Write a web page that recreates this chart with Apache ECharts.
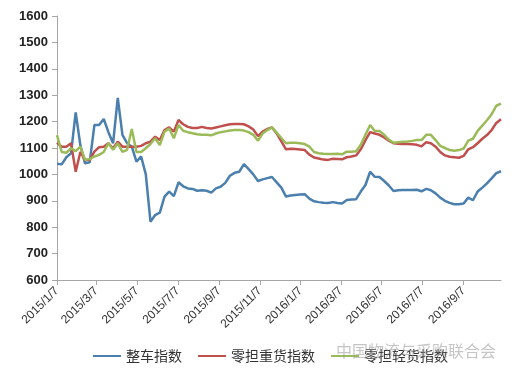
<!DOCTYPE html>
<html>
<head>
<meta charset="utf-8">
<script src="https://cdn.jsdelivr.net/npm/echarts@6/dist/echarts.min.js"></script>
<style>
html,body{margin:0;padding:0;background:#fff;}
#c{width:514px;height:371px;}
</style>
</head>
<body>
<div id="c"></div>
<script>
const dates = [
'2015/1/7','2015/1/14','2015/1/21','2015/1/28','2015/2/4','2015/2/11','2015/2/18','2015/2/25',
'2015/3/4','2015/3/11','2015/3/18','2015/3/25','2015/4/1','2015/4/8','2015/4/15','2015/4/22',
'2015/4/29','2015/5/6','2015/5/13','2015/5/20','2015/5/27','2015/6/3','2015/6/10','2015/6/17',
'2015/6/24','2015/7/1','2015/7/8','2015/7/15','2015/7/22','2015/7/29','2015/8/5','2015/8/12',
'2015/8/19','2015/8/26','2015/9/2','2015/9/9','2015/9/16','2015/9/23','2015/9/30','2015/10/7',
'2015/10/14','2015/10/21','2015/10/28','2015/11/4','2015/11/11','2015/11/18','2015/11/25','2015/12/2',
'2015/12/9','2015/12/16','2015/12/23','2015/12/30','2016/1/6','2016/1/13','2016/1/20','2016/1/27',
'2016/2/3','2016/2/10','2016/2/17','2016/2/24','2016/3/2','2016/3/9','2016/3/16','2016/3/23',
'2016/3/30','2016/4/6','2016/4/13','2016/4/20','2016/4/27','2016/5/4','2016/5/11','2016/5/18',
'2016/5/25','2016/6/1','2016/6/8','2016/6/15','2016/6/22','2016/6/29','2016/7/6','2016/7/13',
'2016/7/20','2016/7/27','2016/8/3','2016/8/10','2016/8/17','2016/8/24','2016/8/31','2016/9/7',
'2016/9/14','2016/9/21','2016/9/28','2016/10/5','2016/10/12','2016/10/19','2016/10/26','2016/11/2'
];
const truckload = [
1040,1038,1065,1080,1235,1110,1042,1046,1187,1187,1210,1160,1118,1290,1150,1118,
1105,1048,1068,1000,821,846,855,916,935,918,970,955,947,945,938,940,
938,931,947,953,968,995,1006,1010,1039,1020,1000,975,981,986,990,970,
950,916,920,922,924,925,908,898,895,893,892,895,892,890,903,905,
906,935,960,1010,991,990,975,958,937,940,941,941,941,942,936,945,
940,928,912,900,892,887,887,890,912,902,935,950,966,985,1005,1012
];
const ltlHeavy = [
1120,1105,1105,1118,1010,1085,1055,1055,1086,1103,1105,1118,1099,1124,1105,1105,
1105,1105,1108,1118,1124,1143,1130,1168,1178,1162,1206,1190,1180,1176,1176,1180,
1176,1174,1178,1182,1186,1190,1191,1191,1190,1182,1170,1145,1162,1172,1178,1155,
1125,1095,1097,1096,1094,1092,1075,1064,1060,1056,1055,1059,1058,1057,1065,1068,
1072,1095,1130,1160,1155,1150,1140,1128,1118,1116,1115,1115,1114,1112,1106,1122,
1118,1105,1085,1072,1067,1065,1063,1070,1095,1103,1118,1135,1149,1168,1195,1209
];
const ltlLight = [
1149,1085,1082,1099,1088,1105,1055,1058,1068,1074,1085,1118,1093,1118,1085,1093,
1172,1085,1085,1099,1115,1137,1111,1162,1174,1137,1187,1165,1160,1156,1152,1150,
1150,1148,1155,1160,1163,1166,1168,1168,1166,1160,1150,1128,1155,1168,1178,1158,
1138,1118,1120,1120,1118,1115,1105,1085,1080,1078,1077,1077,1078,1076,1086,1086,
1088,1112,1150,1187,1164,1164,1150,1132,1120,1122,1124,1125,1127,1130,1130,1150,
1150,1130,1108,1100,1092,1090,1092,1098,1128,1135,1165,1185,1205,1228,1260,1268
];
const tickLabels = ['2015/1/7','2015/3/7','2015/5/7','2015/7/7','2015/9/7','2015/11/7',
'2016/1/7','2016/3/7','2016/5/7','2016/7/7','2016/9/7'];
const seriesNames = ['整车指数','零担重货指数','零担轻货指数'];

// day number since epoch (UTC) for each date string
function dayNum(s){ const p = s.split('/').map(Number); return Math.round(Date.UTC(p[0], p[1]-1, p[2]) / 86400000); }
const tickDays = tickLabels.map(dayNum);
const dateDays = dates.map(dayNum);
const labelByDay = {};
tickLabels.forEach((t,i)=>{ labelByDay[tickDays[i]] = t; });
function pairs(vals){ return vals.map((v,i)=>[dateDays[i], v]); }

const chart = echarts.init(document.getElementById('c'), null, {renderer:'canvas'});
const axisColor = '#a6a6a6';
chart.setOption({
  animation:false,
  backgroundColor:'#fff',
  color:['#4a7fae','#c0504d','#9bbb59'],
  grid:{left:57, right:13, top:16, bottom:91, containLabel:false},
  legend:{
    left:88, top:344, itemGap:16, itemWidth:28, itemHeight:2, icon:'rect',
    textStyle:{fontSize:14, color:'#333', fontFamily:'Noto Sans CJK SC'},
    data:seriesNames
  },
  xAxis:{
    type:'value', min:dateDays[0], max:dateDays[dateDays.length-1],
    axisLine:{show:true, lineStyle:{color:axisColor, width:1}},
    axisTick:{show:true, length:5, customValues:tickDays, lineStyle:{color:axisColor}},
    splitLine:{show:false},
    axisLabel:{customValues:tickDays, rotate:45, margin:9, fontSize:12, color:'#333',
      fontFamily:'Liberation Sans', formatter:(v)=>labelByDay[Math.round(v)] || '', hideOverlap:false}
  },
  yAxis:{
    type:'value', min:600, max:1600, interval:100,
    axisLine:{show:true, lineStyle:{color:axisColor, width:1}},
    axisTick:{show:true, length:5, lineStyle:{color:axisColor}},
    splitLine:{show:false},
    axisLabel:{fontSize:13, fontWeight:'bold', color:'#222', margin:9, fontFamily:'Liberation Sans',
      formatter:(v)=>String(v)}
  },
  series:[
    {name:seriesNames[0], type:'line', data:pairs(truckload), showSymbol:false, symbol:'none', lineStyle:{width:2.5}},
    {name:seriesNames[1], type:'line', data:pairs(ltlHeavy), showSymbol:false, symbol:'none', lineStyle:{width:2.5}},
    {name:seriesNames[2], type:'line', data:pairs(ltlLight), showSymbol:false, symbol:'none', lineStyle:{width:2.5}}
  ],
  graphic:[
    {type:'text', left:336, top:343, silent:true, z:100,
     style:{text:'中国物流与采购联合会', fontSize:16, fill:'rgba(150,150,150,0.55)', fontFamily:'Noto Sans CJK SC'}}
  ]
});
</script>
</body>
</html>
